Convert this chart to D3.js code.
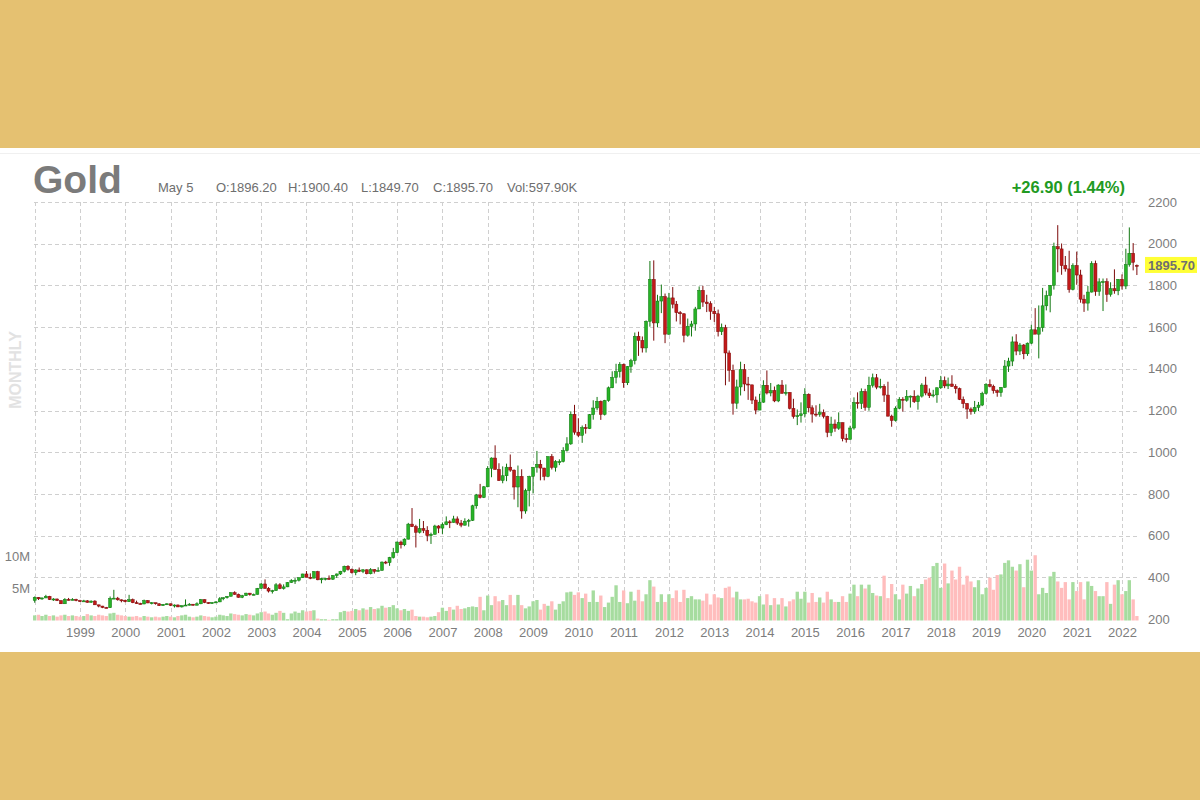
<!DOCTYPE html>
<html><head><meta charset="utf-8">
<script src="https://cdn.jsdelivr.net/npm/d3@7/dist/d3.min.js"></script>
<style>
html,body{margin:0;padding:0;background:#e5c171;}
svg{display:block;font-family:"Liberation Sans",Arial,sans-serif;}
</style>
</head><body>
<svg id="chart" width="1200" height="800"></svg>
<script>
// ---------------- DATA (monthly, starting Jan 1998) ----------------
const startYear = 1998;
const opens = [
289,304,297,301,309,293,296,288,273,294,292,294,
288,287,287,280,286,268,262,255,254,299,300,292,
290,283,293,278,274,272,288,277,278,273,264,270,
273,265,267,258,264,267,271,266,273,293,279,275,
279,282,297,302,309,326,318,304,312,324,317,318,
347,368,347,334,336,364,346,354,375,384,386,398,
416,400,396,427,388,394,395,391,408,416,429,453,
438,422,435,428,436,417,437,429,433,473,470,495,
518,569,556,583,655,643,616,634,625,600,606,646,
636,653,666,663,680,660,650,669,673,743,795,783,
834,923,972,917,864,887,928,914,833,884,718,816,
884,928,942,924,884,979,927,955,955,1008,1040,1182,
1096,1081,1118,1113,1180,1212,1244,1181,1248,1309,1359,1386,
1421,1333,1411,1439,1556,1536,1500,1628,1829,1620,1725,1746,
1566,1740,1710,1669,1664,1561,1604,1615,1687,1776,1720,1712,
1676,1664,1578,1597,1476,1393,1235,1313,1396,1327,1323,1250,
1202,1240,1321,1284,1296,1246,1322,1282,1287,1210,1171,1175,
1184,1278,1213,1183,1182,1190,1172,1095,1135,1115,1142,1065,
1061,1116,1238,1234,1291,1215,1321,1357,1312,1316,1274,1173,
1152,1211,1254,1249,1268,1268,1242,1269,1322,1284,1271,1275,
1309,1343,1318,1327,1316,1305,1253,1233,1207,1195,1215,1226,
1282,1325,1316,1295,1286,1311,1413,1437,1529,1485,1514,1472,
1523,1587,1566,1597,1702,1751,1800,1986,1975,1895,1879,1780,
1895,1850,1734,1715,1768,1905,1771,1817,1818,1757,1784,1774,
1829,1797,1900,1954,1896.2
];
const highs = [
308,305,303,316,311,300,298,290,300,301,300,297,
292,292,291,289,290,268,263,258,308,340,306,294,
293,316,298,288,278,293,291,281,278,275,272,275,
274,270,270,265,294,276,272,280,296,294,280,281,
285,305,304,310,328,333,322,316,326,325,322,349,
372,390,353,340,372,372,366,377,391,396,400,417,
430,419,430,431,397,398,409,411,418,431,456,458,
442,439,447,439,438,444,439,448,476,479,498,541,
572,576,587,661,732,652,680,670,645,614,652,650,
663,692,674,695,692,675,683,680,748,800,848,838,
933,975,1033,947,932,945,989,917,936,918,825,887,
928,1006,963,925,980,991,962,966,1024,1072,1196,1227,
1163,1128,1135,1183,1249,1265,1248,1251,1315,1388,1424,1432,
1425,1413,1448,1574,1578,1555,1632,1917,1920,1755,1804,1761,
1764,1792,1725,1677,1666,1641,1630,1697,1795,1798,1755,1724,
1697,1684,1617,1611,1488,1420,1348,1434,1423,1361,1324,1267,
1280,1345,1392,1332,1315,1326,1346,1325,1287,1256,1205,1239,
1307,1282,1225,1225,1232,1205,1175,1170,1157,1191,1142,1088,
1127,1263,1287,1306,1304,1362,1377,1375,1352,1326,1338,1180,
1220,1264,1264,1298,1272,1297,1275,1331,1362,1306,1299,1311,
1366,1363,1358,1369,1326,1310,1267,1236,1215,1246,1241,1290,
1331,1349,1324,1301,1312,1442,1453,1555,1566,1524,1519,1526,
1611,1691,1704,1788,1775,1802,2005,2089,2001,1941,1966,1906,
1962,1875,1755,1797,1916,1919,1834,1833,1834,1815,1877,1830,
1853,1976,2078,2003,1900.4
];
const lows = [
278,291,292,300,291,287,286,272,273,289,290,285,
283,285,278,278,267,256,252,252,253,296,288,280,
280,282,276,273,270,271,276,270,269,263,264,267,
262,255,257,255,263,265,264,266,271,276,272,272,
277,281,290,298,308,316,302,300,311,312,314,317,
345,345,327,322,336,343,341,353,373,368,380,397,
400,391,395,386,371,385,388,387,397,411,423,432,
418,410,425,420,414,414,418,428,432,463,455,490,
516,538,549,581,641,543,610,612,573,560,605,612,
608,650,636,662,651,640,648,643,670,729,778,780,
832,880,917,862,851,861,906,773,736,681,705,740,
802,902,865,865,880,917,907,938,951,1003,1035,1084,
1072,1045,1089,1111,1156,1201,1155,1176,1242,1307,1330,1358,
1309,1322,1381,1421,1462,1478,1478,1602,1535,1600,1667,1523,
1563,1690,1627,1613,1527,1554,1555,1583,1687,1697,1672,1635,
1625,1555,1562,1321,1338,1180,1208,1272,1293,1251,1231,1182,
1202,1237,1277,1268,1240,1240,1282,1272,1205,1161,1130,1142,
1167,1191,1142,1170,1170,1162,1072,1077,1098,1107,1052,1046,
1061,1108,1209,1207,1199,1199,1310,1302,1305,1241,1171,1122,
1147,1206,1195,1242,1214,1236,1204,1262,1273,1260,1263,1237,
1303,1307,1303,1313,1282,1250,1211,1160,1180,1184,1197,1221,
1277,1311,1281,1266,1266,1309,1385,1413,1465,1466,1446,1462,
1518,1567,1450,1578,1680,1671,1780,1863,1851,1866,1765,1776,
1803,1717,1673,1679,1766,1750,1750,1677,1721,1746,1760,1753,
1780,1782,1890,1872,1849.7
];
const closes = [
304,297,301,309,293,296,288,273,294,292,294,288,
287,287,280,286,268,262,255,254,299,300,292,290,
283,293,278,274,272,288,277,278,273,264,270,273,
265,267,258,264,267,271,266,273,293,279,275,279,
282,297,302,309,326,318,304,312,324,317,318,347,
368,347,334,336,364,346,354,375,384,386,398,416,
400,396,427,388,394,395,391,408,416,429,453,438,
422,435,428,436,417,437,429,433,473,470,495,518,
569,556,583,655,643,616,634,625,600,606,646,636,
653,666,663,680,660,650,669,673,743,795,783,834,
923,972,917,864,887,928,914,833,884,718,816,884,
928,942,924,884,979,927,955,955,1008,1040,1182,1096,
1081,1118,1113,1180,1212,1244,1181,1248,1309,1359,1386,1421,
1333,1411,1439,1556,1536,1500,1628,1829,1620,1725,1746,1566,
1740,1710,1669,1664,1561,1604,1615,1687,1776,1720,1712,1676,
1664,1578,1597,1476,1393,1235,1313,1396,1327,1323,1250,1202,
1240,1321,1284,1296,1246,1322,1282,1287,1210,1171,1175,1184,
1278,1213,1183,1182,1190,1172,1095,1135,1115,1142,1065,1061,
1116,1238,1234,1291,1215,1321,1357,1312,1316,1274,1173,1152,
1211,1254,1249,1268,1269,1242,1269,1322,1284,1271,1275,1309,
1343,1318,1327,1316,1305,1253,1233,1207,1195,1215,1226,1282,
1325,1316,1295,1286,1311,1413,1437,1529,1485,1514,1472,1523,
1587,1566,1597,1702,1751,1800,1986,1975,1895,1879,1780,1895,
1850,1734,1715,1768,1905,1771,1817,1818,1757,1784,1774,1829,
1797,1900,1954,1911,1895.7
];
// volume in millions of contracts
const volumes = [
0.8,0.9,0.7,0.9,0.7,0.8,0.6,0.8,0.9,0.7,0.8,0.7,
0.6,0.7,1.0,0.8,0.7,0.9,0.8,0.7,1.1,1.2,0.9,0.8,
0.7,0.6,0.6,0.7,0.5,0.7,0.6,0.5,0.6,0.5,0.6,0.7,
0.6,0.5,0.7,0.8,0.9,0.6,0.5,0.6,0.8,0.7,0.6,0.5,
0.6,0.9,0.8,0.7,1.1,1.0,0.9,0.8,1.0,0.9,0.8,1.1,
1.3,1.4,1.1,0.9,1.2,1.5,1.2,0.2,1.1,1.4,1.2,1.6,
1.4,1.5,1.6,0.3,0.2,0.2,0.1,0.2,0.2,1.3,1.5,1.4,
1.5,1.8,1.6,1.9,1.7,2.1,1.8,1.9,2.3,2.0,2.1,2.4,
1.9,1.6,1.8,1.5,1.7,0.7,0.6,0.6,0.5,0.6,0.7,1.3,
2.0,1.5,2.1,1.7,2.3,1.8,1.9,2.1,2.2,2.1,3.7,1.6,
3.9,2.4,3.8,3.0,3.2,2.4,4.0,2.4,4.0,2.4,1.9,2.2,
3.0,3.2,1.7,2.6,2.3,3.0,1.7,2.6,3.0,4.4,4.5,4.0,
4.4,3.5,4.2,2.9,4.7,2.9,3.9,2.1,2.8,3.7,5.5,2.9,
4.7,2.7,4.5,3.1,4.8,3.0,4.1,6.3,5.3,2.9,4.1,2.9,
4.1,3.5,4.7,2.9,4.8,3.5,3.8,3.3,3.3,3.1,4.2,2.5,
4.1,3.6,3.5,5.1,5.3,3.6,4.5,3.3,3.3,3.4,3.0,2.8,
3.8,2.5,4.1,2.4,3.5,2.5,3.5,2.2,3.0,3.3,4.5,3.4,
4.5,2.8,4.3,2.9,3.6,2.8,4.5,3.3,2.9,2.9,3.8,2.9,
4.2,5.6,3.8,5.6,5.0,5.6,4.3,3.9,3.8,7.0,3.5,5.7,
4.1,3.3,5.6,4.2,5.4,3.8,5.0,5.7,6.4,6.7,8.5,9.0,
5.1,8.9,5.8,7.8,6.4,8.4,5.6,7.0,6.1,5.2,6.3,4.1,
5.1,6.7,4.8,7.1,7.2,9.0,9.4,8.4,7.8,8.8,5.2,9.5,
7.8,10.2,4.1,5.1,4.3,6.9,7.6,6.1,5.1,6.0,3.3,6.0,
4.6,6.0,3.3,6.1,5.4,4.6,3.8,3.8,6.0,2.6,5.6,6.3,
4.1,4.6,6.3,3.3,0.7
];
const yearLabels = [1999,2000,2001,2002,2003,2004,2005,2006,2007,2008,2009,2010,2011,2012,2013,2014,2015,2016,2017,2018,2019,2020,2021,2022];
const priceTicks = [200,400,600,800,1000,1200,1400,1600,1800,2000,2200];
const volTicks = [5,10];
const volTickLabels = ["5M","10M"];
const title = "Gold";
const headerItems = ["May 5","O:1896.20","H:1900.40","L:1849.70","C:1895.70","Vol:597.90K"];
const changeText = "+26.90 (1.44%)";
const lastPrice = 1895.70;
const periodLabel = "MONTHLY";

// ---------------- LAYOUT ----------------
const svg = d3.select("#chart");
const colors = {
  bg:"#e5c171", panel:"#ffffff", grid:"#cfcfcf", text:"#7d7d7d",
  upFill:"#27b327", upLine:"#117711", dnFill:"#c21919", dnLine:"#7d0b0b",
  volUp:"#a6dc9f", volDn:"#ffbdbd", change:"#229a22", hl:"#ffff36"
};

const data = closes.map((c,i)=>({
  date:new Date(startYear, i, 1),
  o:opens[i], h:highs[i], l:lows[i], c:c, v:volumes[i]
}));

const x = d3.scaleTime()
  .domain([new Date(1998,0,1), new Date(2022,0,1)])
  .range([34.7, 1122]);
const y = d3.scaleLinear().domain([200,2200]).range([619,202]);
const yv = d3.scaleLinear().domain([0,10]).range([620.5,556.5]);

const plotLeft = 34, plotRight = 1140, plotTop = 202, plotBottom = 621;
const step = x(new Date(1998,1,1)) - x(new Date(1998,0,1));

// background & panel
svg.append("rect").attr("width",1200).attr("height",800).attr("fill",colors.bg);
svg.append("rect").attr("x",0).attr("y",148).attr("width",1200).attr("height",504).attr("fill",colors.panel);
svg.append("line").attr("x1",0).attr("x2",1200).attr("y1",153.5).attr("y2",153.5)
  .attr("stroke","#f0f0f0").attr("stroke-width",1);

// grid
const grid = svg.append("g").attr("stroke",colors.grid).attr("stroke-width",1).attr("stroke-dasharray","4,3");
grid.selectAll("line.h").data(priceTicks.filter(d=>d>200)).join("line")
  .attr("x1",plotLeft).attr("x2",plotRight)
  .attr("y1",d=>Math.round(y(d))+0.5).attr("y2",d=>Math.round(y(d))+0.5);
const gridYears = [1998].concat(yearLabels);
grid.selectAll("line.v").data(gridYears).join("line")
  .attr("x1",d=>Math.round(x(new Date(d,0,1)))+0.5).attr("x2",d=>Math.round(x(new Date(d,0,1)))+0.5)
  .attr("y1",plotTop).attr("y2",plotBottom);

// MONTHLY label
svg.append("text").text(periodLabel)
  .attr("transform","translate(21,370) rotate(-90)")
  .attr("text-anchor","middle").attr("font-size",16).attr("font-weight","bold")
  .attr("fill","#e2e2e2");

// volume bars
svg.append("g").selectAll("rect").data(data).join("rect")
  .attr("x",d=>x(d.date)-step/2+0.25)
  .attr("width",step-0.5)
  .attr("y",d=>yv(d.v))
  .attr("height",d=>yv(0)-yv(d.v))
  .attr("fill",d=>d.c>=d.o?colors.volUp:colors.volDn);

// candles
const cg = svg.append("g");
const candle = cg.selectAll("g").data(data).join("g");
candle.append("line")
  .attr("x1",d=>x(d.date)).attr("x2",d=>x(d.date))
  .attr("y1",d=>y(d.h)).attr("y2",d=>y(d.l))
  .attr("stroke",d=>d.c>=d.o?colors.upLine:colors.dnLine).attr("stroke-width",1);
candle.append("rect")
  .attr("x",d=>x(d.date)-1.5).attr("width",3)
  .attr("y",d=>y(Math.max(d.o,d.c)))
  .attr("height",d=>Math.max(1,Math.abs(y(d.o)-y(d.c))))
  .attr("fill",d=>d.c>=d.o?colors.upFill:colors.dnFill)
  .attr("stroke",d=>d.c>=d.o?colors.upLine:colors.dnLine).attr("stroke-width",0.5);

// price axis (right)
const yAxis = d3.axisRight(y).tickValues(priceTicks).tickSize(0).tickPadding(0).tickFormat(d3.format("d"));
const ya = svg.append("g").attr("transform","translate(1148,0)").call(yAxis);
ya.select(".domain").remove();
ya.selectAll("text").attr("font-size",13).attr("fill",colors.text)
  .attr("font-family","'Liberation Sans',Arial,sans-serif");

// last price label
svg.append("rect").attr("x",1145).attr("y",y(lastPrice)-8.5).attr("width",52).attr("height",16).attr("fill",colors.hl);
svg.append("text").text(d3.format(".2f")(lastPrice))
  .attr("x",1148).attr("y",y(lastPrice)).attr("dy","0.35em")
  .attr("font-size",13).attr("font-weight","bold").attr("fill","#6f6f6f");

// volume axis (left)
const vAxis = d3.axisLeft(yv).tickValues(volTicks).tickSize(0).tickPadding(0)
  .tickFormat((d,i)=>volTickLabels[i]);
const va = svg.append("g").attr("transform","translate(30,0)").call(vAxis);
va.select(".domain").remove();
va.selectAll("text").attr("font-size",13).attr("fill",colors.text)
  .attr("font-family","'Liberation Sans',Arial,sans-serif");

// time axis
const xAxis = d3.axisBottom(x).tickValues(yearLabels.map(d=>new Date(d,0,1)))
  .tickSize(0).tickPadding(0).tickFormat(d3.timeFormat("%Y"));
const xa = svg.append("g").attr("transform","translate(0,628)").call(xAxis);
xa.select(".domain").remove();
xa.selectAll("text").attr("font-size",13).attr("fill",colors.text)
  .attr("font-family","'Liberation Sans',Arial,sans-serif");

// header
svg.append("text").text(title).attr("x",33).attr("y",193)
  .attr("font-size",39).attr("font-weight","bold").attr("fill","#7b7b7b");
const headerX = [158,216,288,361,433,507];
svg.append("g").selectAll("text").data(headerItems).join("text")
  .text(d=>d).attr("x",(d,i)=>headerX[i]).attr("y",192)
  .attr("font-size",13).attr("fill","#6e6e6e");
svg.append("text").text(changeText).attr("x",1125).attr("y",193)
  .attr("text-anchor","end").attr("font-size",16.5).attr("font-weight","bold").attr("fill",colors.change);
</script>
</body></html>
